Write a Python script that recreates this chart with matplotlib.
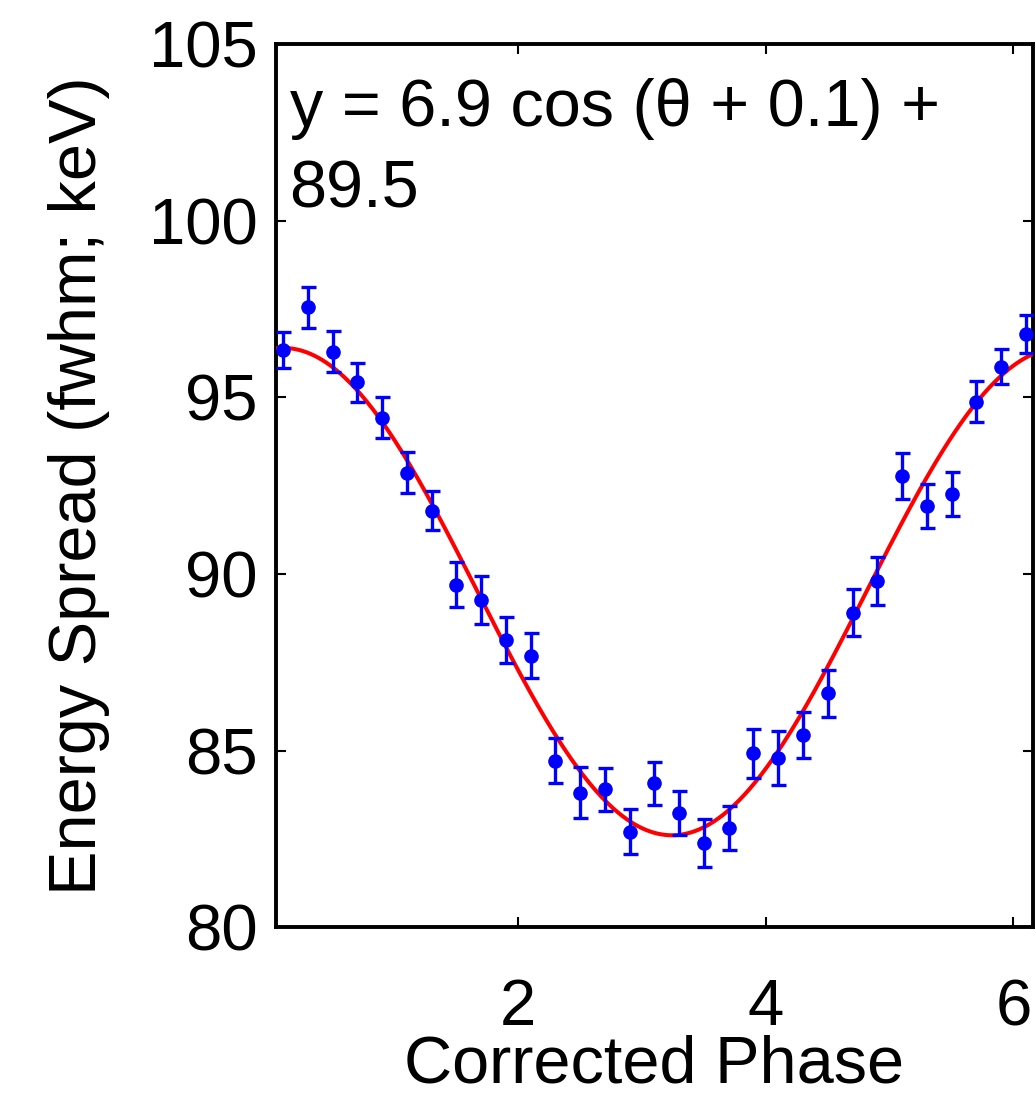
import numpy as np
import matplotlib
matplotlib.use('Agg')
import matplotlib.pyplot as plt

plt.rcParams['font.family'] = ['Liberation Sans', 'DejaVu Sans']

# fase corrigida e largura de energia medida
fase = [0.1, 0.3, 0.5, 0.7, 0.9, 1.1, 1.3, 1.5, 1.7, 1.9, 2.1, 2.3, 2.5, 2.7, 2.9, 3.1,
        3.3, 3.5, 3.7, 3.9, 4.1, 4.3, 4.5, 4.7, 4.9, 5.1, 5.3, 5.5, 5.7, 5.9, 6.1]
largura = [96.34, 97.55, 96.29, 95.43, 94.42, 92.87, 91.79, 89.69, 89.26, 88.13, 87.68,
           84.71, 83.81, 83.90, 82.70, 84.07, 83.23, 82.38, 82.80, 84.92, 84.79, 85.44,
           86.62, 88.90, 89.80, 92.78, 91.92, 92.26, 94.88, 95.87, 96.79]
erro = [0.51, 0.58, 0.58, 0.55, 0.58, 0.58, 0.56, 0.64, 0.67, 0.65, 0.64, 0.64, 0.71,
        0.61, 0.64, 0.61, 0.63, 0.68, 0.63, 0.70, 0.76, 0.65, 0.67, 0.66, 0.68, 0.65,
        0.62, 0.63, 0.59, 0.50, 0.54]

# parametros do ajuste
amp = 6.9
desloc = 0.1
base = 89.5

fig = plt.figure(figsize=(10.36, 11.05), dpi=100)
ax = fig.add_axes([0.2664, 0.161, 0.7306, 0.799])

xlim = (0.043, 6.157)
teta = np.linspace(xlim[0], xlim[1], 400)
ax.plot(teta, amp * np.cos(teta - desloc) + base, color='red', lw=2.9, zorder=3)

ax.errorbar(fase, largura, yerr=erro, fmt='o', color='blue', ms=9.5, elinewidth=2.4,
            capsize=5.4, capthick=2.4, zorder=4)

ax.set_xlim(xlim)
ax.set_ylim(80, 105)
ax.set_xticks([2, 4, 6])
ax.set_yticks([80, 85, 90, 95, 100, 105])

ax.tick_params(direction='in', top=True, right=True, length=7, width=1.5,
               labelsize=47, colors='black')
ax.tick_params(axis='y', pad=13)
ax.tick_params(axis='x', pad=37)
for s in ax.spines.values():
    s.set_linewidth(2.8)

ax.set_xlabel('Corrected Phase', fontsize=48, labelpad=-3)
ax.set_ylabel('Energy Spread (fwhm; keV)', fontsize=48, labelpad=28)

ax.text(0.018, 0.962, 'y = 6.9 cos (\u03b8 + 0.1) +\n89.5', transform=ax.transAxes,
        fontsize=48, va='top', ha='left', linespacing=1.42)

plt.savefig('out.png', dpi=100)
plt.close()
